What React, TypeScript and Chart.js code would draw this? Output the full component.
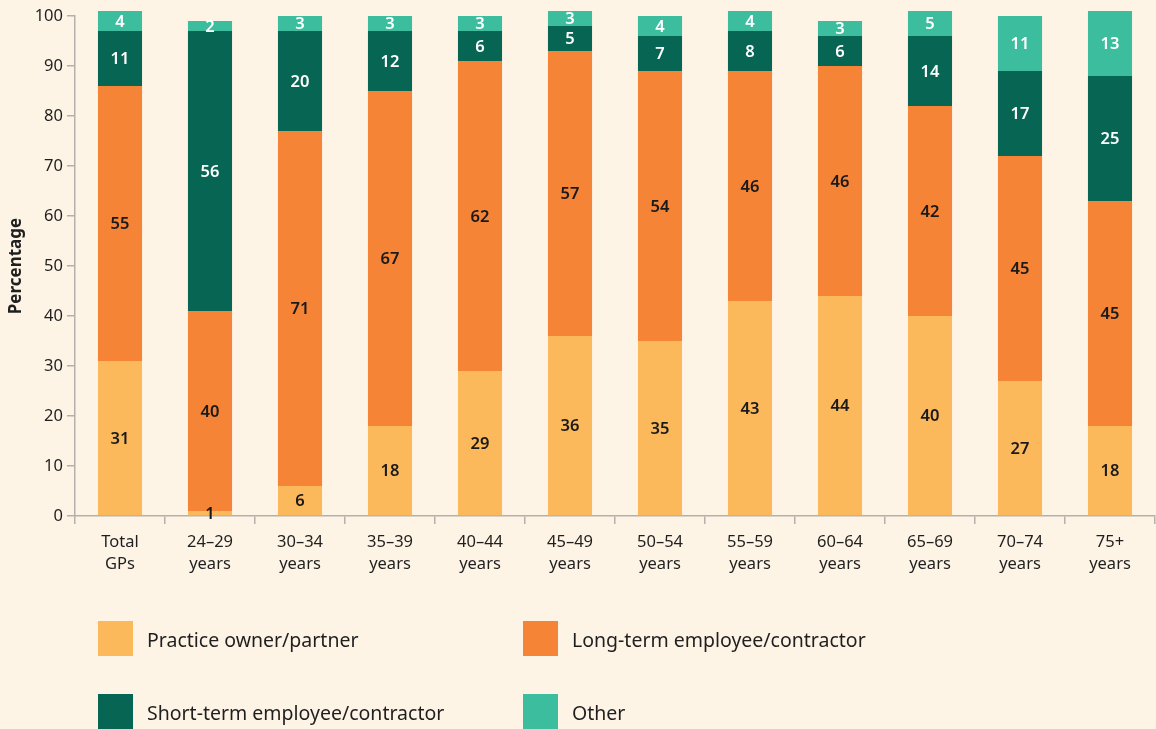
import React, { useEffect, useRef } from "react";
import { Chart, registerables } from "chart.js";

Chart.register(...registerables);

const categories: string[][] = [
  ["Total", "GPs"],
  ["24–29", "years"],
  ["30–34", "years"],
  ["35–39", "years"],
  ["40–44", "years"],
  ["45–49", "years"],
  ["50–54", "years"],
  ["55–59", "years"],
  ["60–64", "years"],
  ["65–69", "years"],
  ["70–74", "years"],
  ["75+", "years"],
];

const ownerPartner = [31, 1, 6, 18, 29, 36, 35, 43, 44, 40, 27, 18];
const longTerm = [55, 40, 71, 67, 62, 57, 54, 46, 46, 42, 45, 45];
const shortTerm = [11, 56, 20, 12, 6, 5, 7, 8, 6, 14, 17, 25];
const other = [4, 2, 3, 3, 3, 3, 4, 4, 3, 5, 11, 13];

const seriesNames = [
  "Practice owner/partner",
  "Long-term employee/contractor",
  "Short-term employee/contractor",
  "Other",
];
const seriesColors = ["#fbb95b", "#f58436", "#076554", "#3bbd9e"];
const valueLabelColors = ["#1a1a1a", "#1a1a1a", "#ffffff", "#ffffff"];

const yAxisTitle = "Percentage";
const yMin = 0;
const yMax = 100;
const yStep = 10;

const FONT = "'Noto Sans', sans-serif";
const BG = "#fef4e6";
const AXIS = "#b4b0aa";
const TEXT = "#1f1f1f";

const valueLabels = {
  id: "valueLabels",
  afterDatasetsDraw(chart: any) {
    const ctx = chart.ctx;
    ctx.save();
    ctx.font = `600 16.5px ${FONT}`;
    ctx.textAlign = "center";
    ctx.textBaseline = "middle";
    chart.data.datasets.forEach((ds: any, di: number) => {
      const meta = chart.getDatasetMeta(di);
      meta.data.forEach((bar: any, i: number) => {
        const v = ds.data[i];
        const cy = (bar.y + bar.base) / 2;
        ctx.fillStyle = valueLabelColors[di];
        ctx.fillText(String(v), bar.x, cy + 1);
      });
    });
    ctx.restore();
  },
};

export default function App() {
  const ref = useRef<HTMLCanvasElement | null>(null);

  useEffect(() => {
    if (!ref.current) return;
    const allSeries = [ownerPartner, longTerm, shortTerm, other];
    const chart = new Chart(ref.current, {
      type: "bar",
      data: {
        labels: categories,
        datasets: allSeries.map((d, i) => ({
          label: seriesNames[i],
          data: d,
          backgroundColor: seriesColors[i],
          borderWidth: 0,
          barPercentage: 0.7,
          categoryPercentage: 0.7,
          clip: false,
        })),
      },
      options: {
        responsive: false,
        animation: false,
        maintainAspectRatio: false,
        layout: { padding: { top: 16, right: 1, left: 0, bottom: 0 } },
        plugins: {
          legend: { display: false },
          tooltip: { enabled: false },
        },
        scales: {
          x: {
            stacked: true,
            grid: {
              display: true,
              drawOnChartArea: false,
              drawTicks: true,
              tickLength: 8,
              color: AXIS,
              lineWidth: 1.5,
              offset: true,
            },
            border: { display: true, color: AXIS, width: 1.5 },
            ticks: {
              color: TEXT,
              font: { family: FONT, size: 16.5, lineHeight: 1.35 },
              padding: 7,
              maxRotation: 0,
              autoSkip: false,
            },
            afterFit(scale: any) {
              scale.height = 729 - 516;
            },
          },
          y: {
            stacked: true,
            min: yMin,
            max: yMax,
            grid: {
              display: true,
              drawOnChartArea: false,
              drawTicks: true,
              tickLength: 8,
              color: AXIS,
              lineWidth: 1.5,
            },
            border: { display: true, color: AXIS, width: 1.5 },
            ticks: {
              stepSize: yStep,
              color: TEXT,
              font: { family: FONT, size: 16.5 },
              padding: 4,
            },
            title: {
              display: true,
              text: yAxisTitle,
              color: TEXT,
              font: { family: FONT, size: 17, weight: "bold" },
              padding: { top: 6, bottom: 2 },
            },
            afterFit(scale: any) {
              scale.width = 75;
            },
          },
        },
      },
      plugins: [valueLabels],
    });
    return () => chart.destroy();
  }, []);

  const legendItems = seriesNames.map((name, i) => {
    const col = i % 2;
    const row = Math.floor(i / 2);
    return (
      <div
        key={name}
        style={{
          position: "absolute",
          left: col === 0 ? 98 : 523,
          top: row === 0 ? 621 : 694,
          display: "flex",
          alignItems: "center",
          height: 35,
        }}
      >
        <div style={{ width: 35, height: 35, background: seriesColors[i] }} />
        <span
          style={{
            marginLeft: 14,
            fontFamily: FONT,
            fontSize: 19.5,
            color: TEXT,
            whiteSpace: "nowrap",
            position: "relative",
            top: 1,
          }}
        >
          {name}
        </span>
      </div>
    );
  });

  return (
    <div
      style={{
        position: "absolute",
        left: 0,
        top: 0,
        width: 1156,
        height: 729,
        background: BG,
        overflow: "hidden",
      }}
    >
      <canvas ref={ref} width={1156} height={729} style={{ display: "block" }} />
      {legendItems}
    </div>
  );
}
